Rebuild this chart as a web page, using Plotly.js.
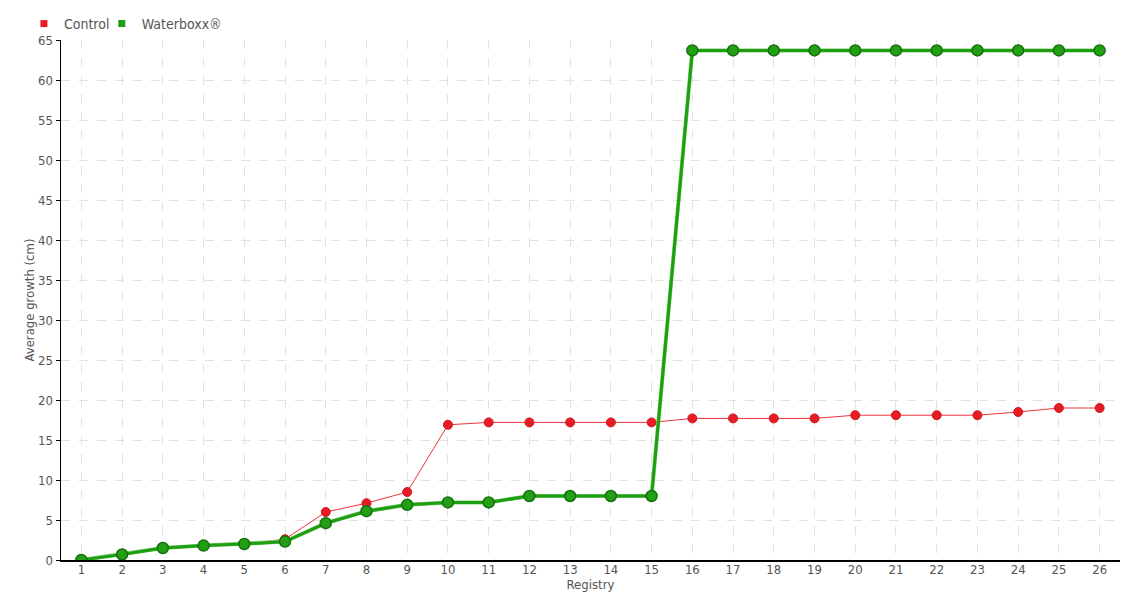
<!DOCTYPE html>
<html><head><meta charset="utf-8">
<script src="https://cdn.plot.ly/plotly-3.0.1.min.js"></script>
<style>html,body{margin:0;padding:0;background:#fff}#chart{width:1140px;height:600px}</style>
</head><body><div id="chart"></div>
<script>
const categories = ["1","2","3","4","5","6","7","8","9","10","11","12","13","14","15","16","17","18","19","20","21","22","23","24","25","26"];
const controlValues = [0,0.7,1.6,1.8,2.0,2.6,6.0,7.1,8.5,16.9,17.2,17.2,17.2,17.2,17.2,17.7,17.7,17.7,17.7,18.1,18.1,18.1,18.1,18.5,19.0,19.0];
const waterboxxValues = [0,0.7,1.5,1.8,2.0,2.3,4.6,6.1,6.9,7.2,7.2,8.0,8.0,8.0,8.0,63.7,63.7,63.7,63.7,63.7,63.7,63.7,63.7,63.7,63.7,63.7];
const yTicks = [0,5,10,15,20,25,30,35,40,45,50,55,60,65];

const FONT = "'DejaVu Sans Condensed', 'DejaVu Sans', sans-serif";
const traces = [
  {x: categories, y: controlValues, type:'scatter', mode:'lines+markers', name:'Control', showlegend:false,
   line:{color:'#f0323c', width:1}, marker:{color:'#e81c24', size:9, line:{color:'#d01820', width:1}}},
  {x: categories, y: waterboxxValues, type:'scatter', mode:'lines', name:'Waterboxx® shade', showlegend:false, hoverinfo:'skip',
   line:{color:'#7fcf72', width:4}},
  {x: categories, y: waterboxxValues, type:'scatter', mode:'lines+markers', name:'Waterboxx®', showlegend:false,
   line:{color:'#1f9e12', width:3}, marker:{color:'#229f14', size:11, line:{color:'#16700e', width:1.5}}},
  {x:[null], y:[null], type:'scatter', mode:'markers', name:'Control', legend:'legend', marker:{symbol:'square', color:'#e81c24', size:7}},
  {x:[null], y:[null], type:'scatter', mode:'markers', name:'Waterboxx®', legend:'legend2', marker:{symbol:'square', color:'#1f9e12', size:7}}
];
const legendBase = {orientation:'h', xanchor:'left', y:1.0, yanchor:'bottom', itemwidth:30,
  font:{family:FONT, size:14, color:'#555'}, bgcolor:'rgba(0,0,0,0)'};
const layout = {
  width:1140, height:600,
  margin:{l:61, r:20, t:40, b:40, autoexpand:false},
  paper_bgcolor:'#fff', plot_bgcolor:'#fff',
  font:{family:FONT, size:13, color:'#555'},
  showlegend:true,
  legend:Object.assign({}, legendBase, {x:-0.035}),
  legend2:Object.assign({}, legendBase, {x:0.0385}),
  xaxis:{type:'category', range:[-0.5,25.5], showline:true, linecolor:'#000', linewidth:1.5,
         showgrid:true, gridcolor:'#e2e2e2', griddash:'dash', ticks:'', zeroline:false, automargin:false,
         ticklabelstandoff:-3,
         tickfont:{family:FONT, size:13, color:'#555'},
         title:{text:'Registry', standoff:0, font:{family:FONT, size:13, color:'#555'}}},
  yaxis:{range:[0,65], tickvals:yTicks, showline:true, linecolor:'#000', linewidth:1.5, automargin:false,
         showgrid:true, gridcolor:'#e2e2e2', griddash:'dash', ticks:'outside', ticklen:4, tickcolor:'#000',
         zeroline:false, tickfont:{family:FONT, size:13, color:'#555'},
         title:{text:'Average growth (cm)', standoff:0, font:{family:FONT, size:13, color:'#555'}}}
};
Plotly.newPlot('chart', traces, layout, {displayModeBar:false, staticPlot:true});
</script></body></html>
